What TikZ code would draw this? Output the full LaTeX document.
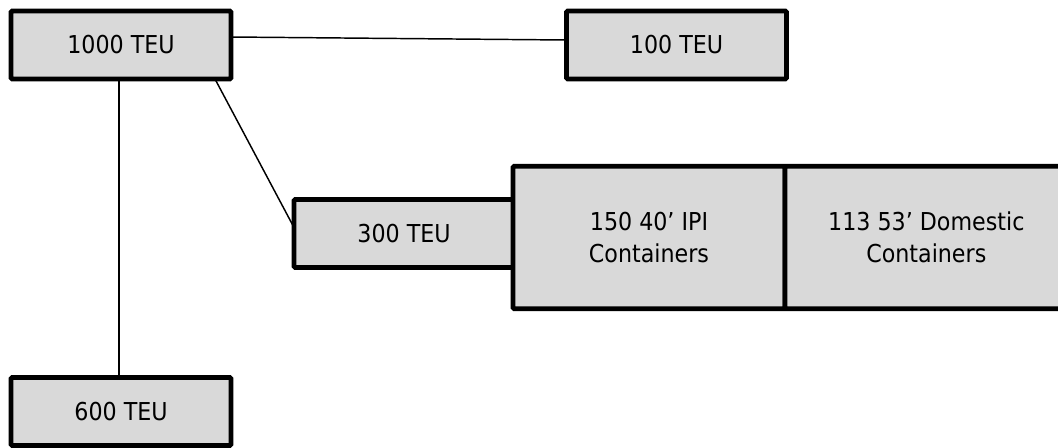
\documentclass[tikz,border=0pt]{standalone}
\usepackage{fontspec}
\setmainfont{DejaVu Sans Condensed}
\begin{document}
\begin{tikzpicture}[x=0.75pt,y=-0.75pt,
  teubox/.style={draw=black,fill=black!15,line width=3.6pt,rounded corners=1pt,
    minimum width=165pt,minimum height=51pt,inner sep=0pt,outer sep=0pt,
    font=\fontsize{18.5}{24}\selectfont,align=center},
  link/.style={line width=1.1pt}]
\useasboundingbox (0,0) rectangle (1058,447);
\node[teubox] (b1000) at (121,45) {1000 TEU};
\node[teubox] (b100) at (676.5,45) {100 TEU};
\node[teubox] (b300) at (404,233.5) {300 TEU};
\node[teubox,minimum width=204pt,minimum height=107pt] (ipi) at (649,237.5) {150 40’ IPI\\Containers};
\node[teubox,minimum width=212pt,minimum height=107pt] (dom) at (ipi.east) [anchor=west] {113 53’ Domestic\\Containers};
\node[teubox] (b600) at (121,411.5) {600 TEU};
\draw[link] ([yshift=6pt]b1000.east) -- ([yshift=3.75pt]b100.west);
\draw[link] ([xshift=-12pt]b1000.south east) -- ([yshift=4.5pt]b300.west);
\draw[link] ([xshift=-1.5pt]b1000.south) -- ([xshift=-1.5pt]b600.north);
\end{tikzpicture}
\end{document}
